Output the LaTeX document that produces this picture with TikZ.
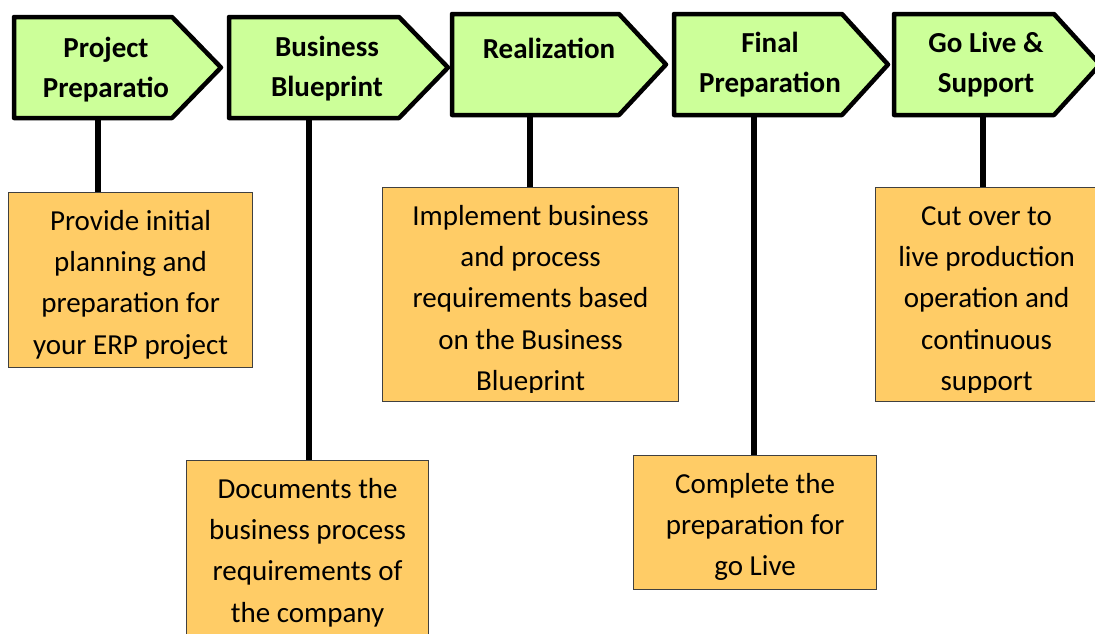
\documentclass[tikz,border=0pt]{standalone}
\usepackage{fontspec}
\setmainfont{Carlito}
\definecolor{phasegreen}{HTML}{CCFF99}
\definecolor{boxorange}{HTML}{FFCC66}
\definecolor{boxborder}{HTML}{404040}
\pgfdeclarelayer{background}
\pgfsetlayers{background,main}
\begin{document}
\begin{tikzpicture}[x=1pt,y=-1pt,
  phase/.style={draw=black, line width=4.5pt, line join=round, fill=phasegreen},
  phasetext/.style={font=\fontsize{29}{40}\selectfont\bfseries, align=center, inner sep=0pt, anchor=north},
  descbox/.style={draw=boxborder, line width=1.2pt, fill=boxorange, inner sep=0pt, anchor=north west},
  desctext/.style={font=\fontsize{29}{41.3}\selectfont, align=center, inner sep=0pt, anchor=north},
  stem/.style={line width=6pt, draw=black}]
\useasboundingbox (0,0) rectangle (1095,633);
\clip (0,0) rectangle (1095,633);

% phase arrows
\draw[phase] (14,17) -- (172,17) -- (221,67.5) -- (172,118) -- (14,118) -- cycle;
\draw[phase] (229,17) -- (399,17) -- (448,67.5) -- (399,118) -- (229,118) -- cycle;
\draw[phase] (452,14) -- (619,14) -- (666,64.5) -- (619,115) -- (452,115) -- cycle;
\draw[phase] (674,14) -- (842,14) -- (888,64.5) -- (842,115) -- (674,115) -- cycle;
\draw[phase] (894,14) -- (1054,14) -- (1100,64.5) -- (1054,115) -- (894,115) -- cycle;

\node[phasetext] (h1) at (106,29) {\strut Project\\Preparatio};
\node[phasetext] (h2) at (327,28) {\strut Business\\Blueprint};
\node[phasetext] (h3) at (549,30) {\strut Realization};
\node[phasetext] (h4) at (770,24) {\strut Final\\Preparation};
\node[phasetext] (h5) at (986,24) {\strut Go Live \&\\Support};

\coordinate (s1) at (98,118);
\coordinate (s2) at (309,118);
\coordinate (s3) at (530,115);
\coordinate (s4) at (754,115);
\coordinate (s5) at (983,115);

% description boxes
\node[descbox, minimum width=244pt, minimum height=175pt] (b1) at (8,192) {};
\node[descbox, minimum width=242pt, minimum height=200pt] (b2) at (186,460) {};
\node[descbox, minimum width=296pt, minimum height=214pt] (b3) at (382,187) {};
\node[descbox, minimum width=243pt, minimum height=134pt] (b4) at (633,455) {};
\node[descbox, minimum width=222pt, minimum height=214pt] (b5) at (875,187) {};

\node[desctext] (t1) at ([yshift=-9pt]b1.north) {\strut Provide initial\\planning and\\preparation for\\your ERP project};
\node[desctext] (t2) at ([yshift=-9pt]b2.north) {\strut Documents the\\business process\\requirements of\\the company};
\begin{scope}
\clip (b3.north west) rectangle ([yshift=10pt]b3.south east);
\node[desctext] (t3) at ([yshift=-9pt]b3.north) {\strut Implement business\\and process\\requirements based\\on the Business\\Blueprint};
\end{scope}
\node[desctext] (t4) at ([yshift=-9pt]b4.north) {\strut Complete the\\preparation for\\go Live};
\begin{scope}
\clip (b5.north west) rectangle ([yshift=10pt]b5.south east);
\node[desctext] (t5) at ([yshift=-9pt]b5.north) {\strut Cut over to\\live production\\operation and\\continuous\\support};
\end{scope}

\begin{pgfonlayer}{background}
\draw[stem] (s1) -- (b1.north -| s1);
\draw[stem] (s2) -- (b2.north -| s2);
\draw[stem] (s3) -- (b3.north -| s3);
\draw[stem] (s4) -- (b4.north -| s4);
\draw[stem] (s5) -- (b5.north -| s5);
\end{pgfonlayer}
\end{tikzpicture}
\end{document}
